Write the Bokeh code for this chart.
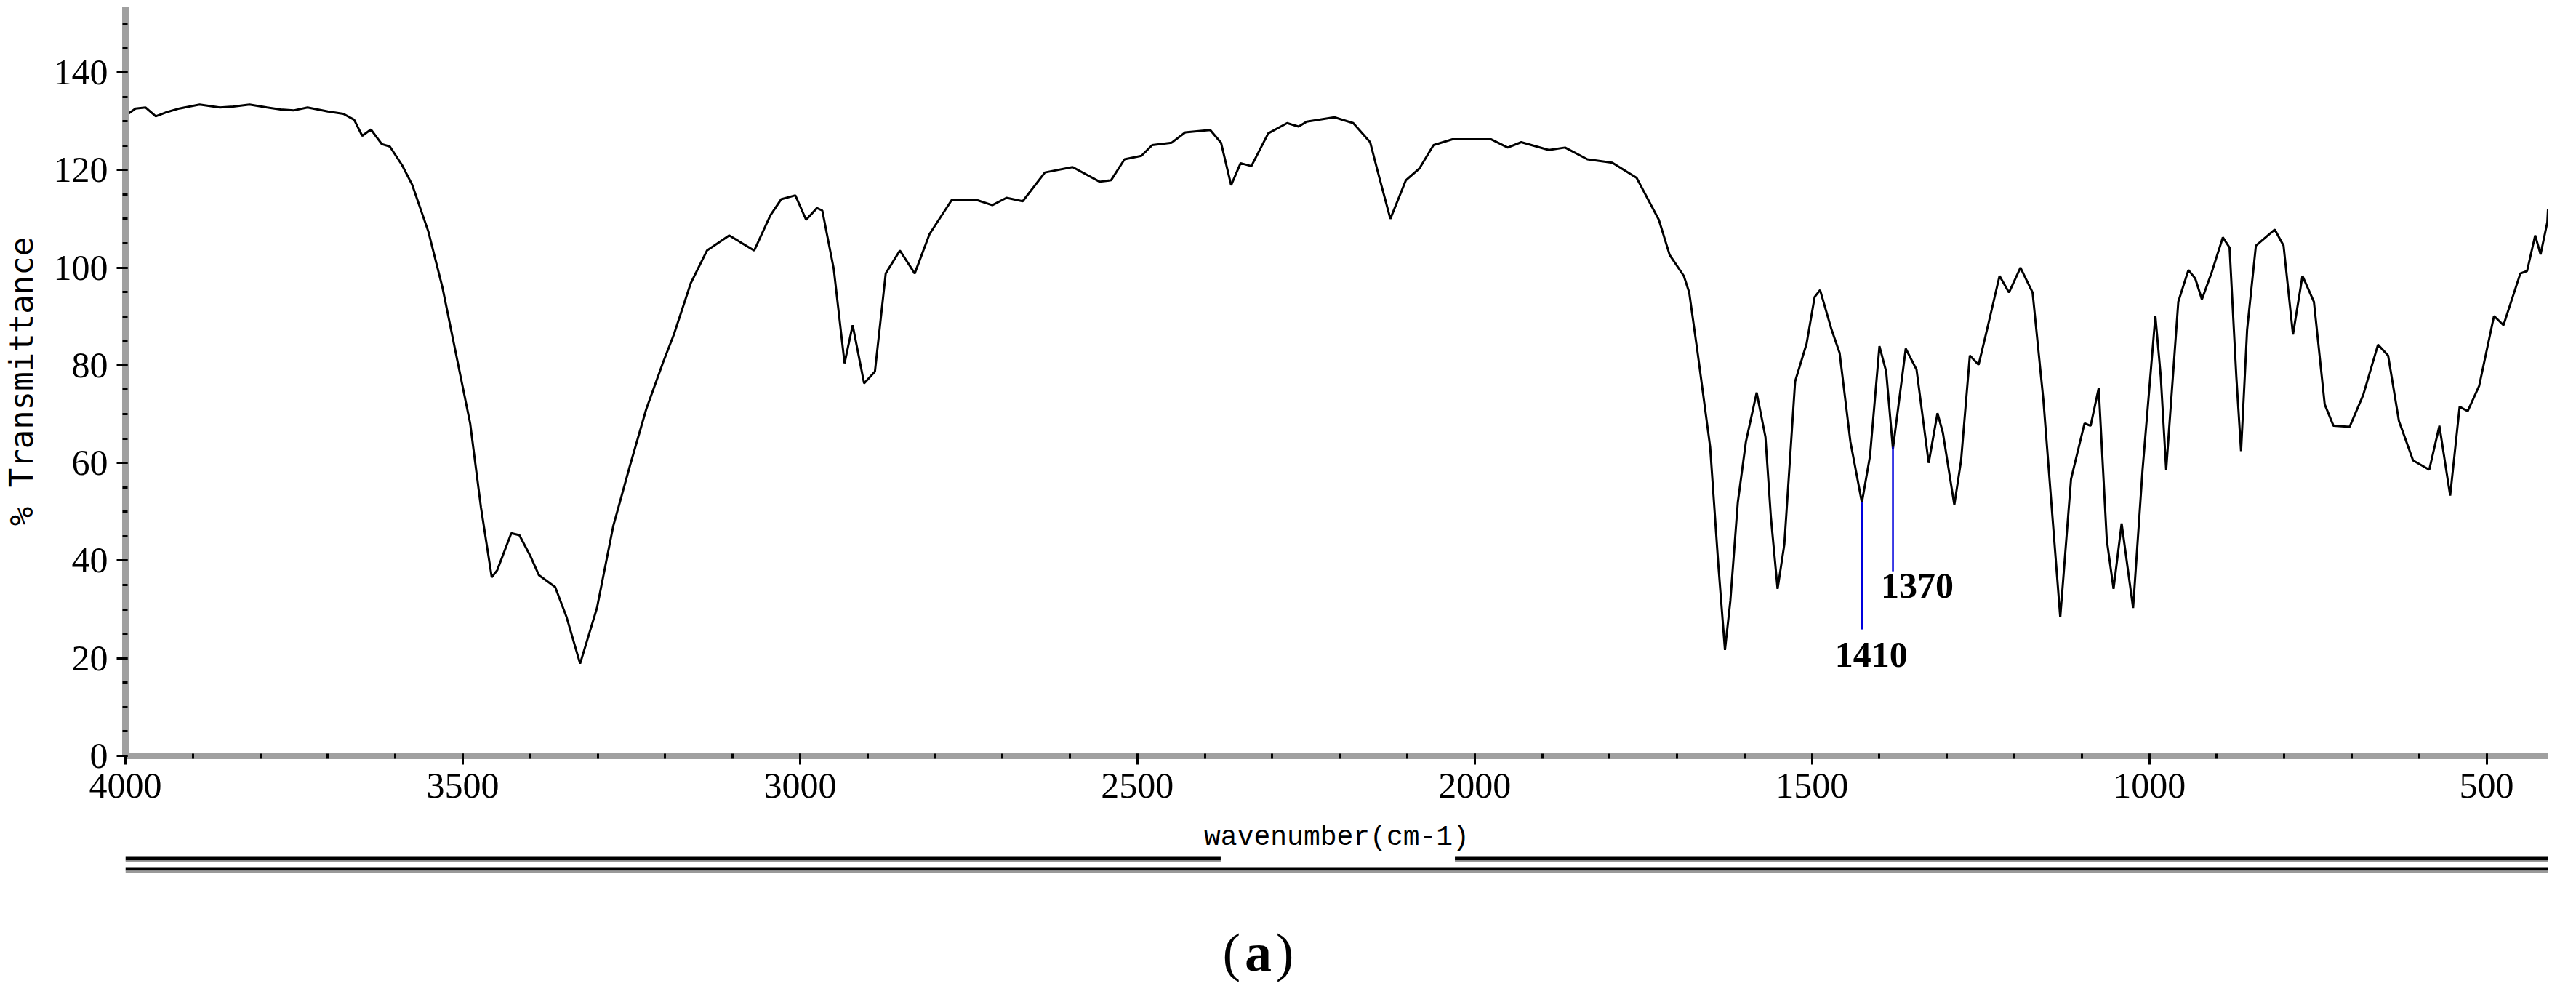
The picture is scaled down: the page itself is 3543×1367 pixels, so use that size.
from bokeh.plotting import figure
from bokeh.models import Range1d, FixedTicker
from bokeh.layouts import column
from bokeh.embed import file_html
from bokeh.resources import INLINE
from bokeh.core.properties import value

# ---------------- data ----------------
wavenumber = [
    4000, 3985, 3970, 3955, 3940, 3920, 3890, 3860, 3840, 3816, 3790, 3770, 3751, 3730, 3700,
    3677, 3661, 3649, 3636, 3620, 3608, 3590, 3575, 3551, 3530, 3506, 3489, 3473, 3457, 3449,
    3428, 3416, 3400, 3387, 3363, 3346, 3326, 3301, 3277, 3252, 3228, 3203, 3187, 3162, 3138,
    3105, 3068, 3044, 3028, 3007, 2991, 2975, 2967, 2950, 2934, 2922, 2905, 2889, 2873, 2852,
    2830, 2808, 2775, 2739, 2715, 2694, 2670, 2637, 2596, 2556, 2539, 2519, 2494, 2478, 2449,
    2429, 2392, 2376, 2361, 2347, 2331, 2306, 2278, 2261, 2249, 2208, 2180, 2155, 2143, 2125,
    2102, 2082, 2061, 2033, 1976, 1951, 1931, 1890, 1866, 1833, 1796, 1760, 1727, 1711, 1690,
    1682, 1669, 1651, 1639, 1629, 1621, 1610, 1598, 1582, 1569, 1561, 1551, 1541, 1525, 1508,
    1496, 1488, 1471, 1459, 1443, 1426, 1414, 1400, 1390, 1380, 1361, 1345, 1327, 1314, 1306,
    1289, 1279, 1266, 1253, 1239, 1222, 1208, 1191, 1173, 1157, 1132, 1116, 1096, 1087, 1075,
    1063, 1053, 1041, 1024, 1010, 991, 983, 975, 957, 942, 932, 922, 908, 891, 881,
    871, 864, 855, 842, 814, 801, 787, 773, 756, 740, 727, 703, 683, 661, 646,
    630, 609, 585, 570, 554, 540, 528, 511, 489, 475, 450, 440, 428, 420, 410,
    409,
]
transmittance = [
    131.1, 132.6, 132.8, 131.0, 131.8, 132.6, 133.4, 132.8, 133.0, 133.4, 132.8, 132.4, 132.2, 132.8, 132.0,
    131.5, 130.3, 127.0, 128.3, 125.3, 124.8, 121.0, 117.0, 107.4, 95.9, 79.6, 68.1, 50.9, 36.6, 38.0,
    45.6, 45.2, 41.0, 37.0, 34.6, 28.4, 18.9, 30.3, 47.0, 59.5, 71.0, 80.6, 86.3, 96.8, 103.5,
    106.6, 103.5, 110.7, 114.0, 114.8, 109.8, 112.2, 111.7, 99.7, 80.4, 88.2, 76.3, 78.7, 98.8, 103.5,
    98.8, 106.9, 113.9, 113.9, 112.8, 114.3, 113.6, 119.5, 120.6, 117.6, 117.9, 122.2, 122.9, 125.1, 125.6,
    127.7, 128.2, 125.6, 116.9, 121.4, 120.8, 127.5, 129.6, 128.9, 129.9, 130.8, 129.6, 125.7, 119.3, 110.0,
    117.9, 120.3, 125.1, 126.3, 126.3, 124.6, 125.7, 124.1, 124.6, 122.2, 121.5, 118.4, 109.8, 102.6, 98.3,
    94.9, 82.0, 63.3, 39.4, 21.7, 31.8, 51.9, 64.3, 74.4, 65.3, 49.0, 34.2, 43.3, 76.7, 84.4,
    94.0, 95.4, 87.3, 82.5, 64.3, 51.9, 61.4, 83.9, 78.7, 62.9, 83.4, 79.1, 60.0, 70.2, 66.2,
    51.4, 60.5, 82.0, 80.1, 88.2, 98.3, 94.9, 100.0, 94.9, 72.9, 28.4, 56.7, 68.1, 67.6, 75.3,
    44.2, 34.2, 47.6, 30.3, 58.6, 90.1, 77.7, 58.6, 93.0, 99.5, 97.8, 93.5, 98.8, 106.2, 104.1,
    77.7, 62.4, 87.3, 104.5, 107.8, 104.5, 86.3, 98.3, 93.0, 72.0, 67.6, 67.4, 73.9, 84.2, 82.0,
    68.6, 60.5, 58.6, 67.6, 53.3, 71.5, 70.6, 75.8, 90.1, 88.2, 98.8, 99.3, 106.6, 102.7, 109.3,
    112.0,
]

peak_labels = ["1410", "1370"]
peak_wn = [1426, 1380]
peak_top = [52.0, 63.3]
peak_bottom = [25.9, 37.8]
peak_label_wn = [1412, 1344]
peak_label_t = [20.7, 34.9]

x_ticks = [4000, 3500, 3000, 2500, 2000, 1500, 1000, 500]
x_minor = list(range(500, 4001, 100))
y_ticks = [0, 20, 40, 60, 80, 100, 120, 140]
y_minor = list(range(0, 151, 5))

x_title = "wavenumber(cm-1)"
y_title = "% Transmittance"
panel_parts = ["(", "a", ")"]
panel_styles = ["normal", "bold", "normal"]

# ---------------- layout constants (pixels) ----------------
W = 3527
H_TOTAL = 1351
FRAME_LEFT, FRAME_RIGHT = 142, 3504
FRAME_TOP, FRAME_BOTTOM = 9, 1039
FRAME_W = FRAME_RIGHT - FRAME_LEFT
H1 = 1176
H2 = H_TOTAL - H1

# ---------------- main spectrum figure ----------------
p = figure(
    width=W, height=H1,
    x_range=Range1d(4000, 409), y_range=Range1d(0, 153.4),
    output_backend="svg", toolbar_location=None,
    min_border_left=FRAME_LEFT, min_border_right=W - FRAME_RIGHT,
    min_border_top=FRAME_TOP, min_border_bottom=H1 - FRAME_BOTTOM,
    background_fill_color="white", border_fill_color="white",
)
p.outline_line_color = None
p.xgrid.visible = False
p.ygrid.visible = False

p.xaxis.ticker = FixedTicker(ticks=x_ticks, minor_ticks=x_minor)
p.yaxis.ticker = FixedTicker(ticks=y_ticks, minor_ticks=y_minor)

for ax in (p.xaxis[0], p.yaxis[0]):
    ax.axis_line_color = "#a0a0a0"
    ax.axis_line_width = 9
    ax.major_tick_line_color = "black"
    ax.major_tick_line_width = 3
    ax.major_tick_in = 3
    ax.major_tick_out = 12
    ax.minor_tick_line_color = "black"
    ax.minor_tick_line_width = 3
    ax.minor_tick_in = 3
    ax.minor_tick_out = 4
    ax.major_label_text_font = "Liberation Serif"
    ax.major_label_text_font_size = "50px"
    ax.major_label_text_color = "black"
    ax.axis_label_text_font_style = "normal"
    ax.axis_label_text_color = "black"

p.xaxis.axis_label = x_title
p.xaxis.axis_label_text_font = "Liberation Mono"
p.xaxis.axis_label_text_font_size = "38px"
p.xaxis.major_label_standoff = 12
p.xaxis.axis_label_standoff = 30

p.yaxis.axis_label = y_title
p.yaxis.axis_label_text_font = "DejaVu Sans Mono"
p.yaxis.axis_label_text_font_size = "44px"
p.yaxis.major_label_standoff = 12
p.yaxis.axis_label_standoff = 16

p.line(wavenumber, transmittance, line_color="black", line_width=3)

p.segment(x0=peak_wn, y0=peak_top, x1=peak_wn, y1=peak_bottom,
          line_color="#0000dd", line_width=2.5)
p.text(x=peak_label_wn, y=peak_label_t, text=peak_labels,
       text_font=value("Liberation Serif"), text_font_style="bold",
       text_font_size="50px", text_align="center", text_baseline="middle",
       text_color="black")

# ---------------- strip below: double rule and panel letter ----------------
q = figure(
    width=W, height=H2,
    x_range=Range1d(0, FRAME_W), y_range=Range1d(H2, 0),
    x_axis_location=None, y_axis_location=None,
    output_backend="svg", toolbar_location=None,
    min_border_left=FRAME_LEFT, min_border_right=W - FRAME_RIGHT,
    min_border_top=0, min_border_bottom=0,
    background_fill_color="white", border_fill_color="white",
)
q.outline_line_color = None
q.xgrid.visible = False
q.ygrid.visible = False

GAP_L, GAP_R = 1520, 1845
# thick rule (interrupted under the axis title) with grey lower edge
q.quad(left=[0, GAP_R], right=[GAP_L, FRAME_W], top=[1, 1], bottom=[7, 7],
       fill_color="black", line_color=None)
q.quad(left=[0, GAP_R], right=[GAP_L, FRAME_W], top=[7, 7], bottom=[9, 9],
       fill_color="#9a9a9a", line_color=None)
# thin rule
q.quad(left=[0], right=[FRAME_W], top=[17], bottom=[21], fill_color="black", line_color=None)
q.quad(left=[0], right=[FRAME_W], top=[21], bottom=[24], fill_color="#9a9a9a", line_color=None)

# "(a)"
for txt, xx, style in zip(panel_parts, [1535, 1572, 1609], panel_styles):
    q.text(x=[xx], y=[133], text=[txt], text_font=value("Liberation Serif"),
           text_font_size="74px", text_font_style=style, text_align="center",
           text_baseline="middle", text_color="black")

layout = column(p, q, spacing=0)
open("out.html", "w").write(file_html(layout, INLINE))
